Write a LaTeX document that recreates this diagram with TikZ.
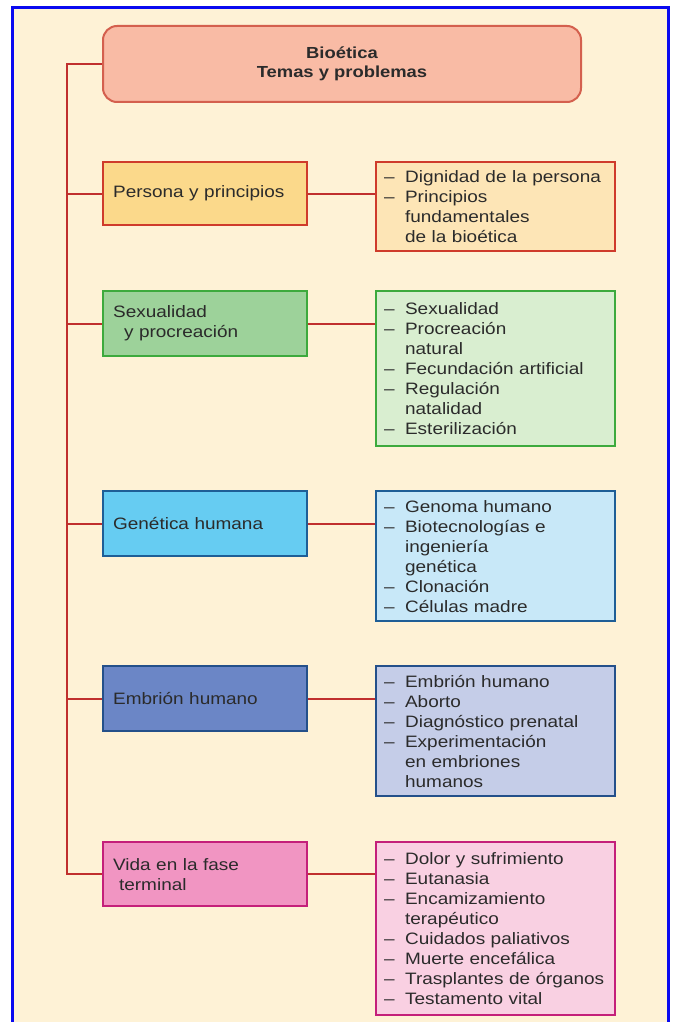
\documentclass[tikz,border=0pt]{standalone}
\usepackage{fontspec}
\setmainfont{Liberation Sans}[FakeStretch=1.15]
\definecolor{bg}{HTML}{FEF2D6}
\definecolor{frameblue}{HTML}{0A0AF0}
\definecolor{txt}{HTML}{2B2B2B}
\definecolor{conn}{HTML}{C0302E}
\definecolor{titleF}{HTML}{F9BBA5}
\definecolor{titleD}{HTML}{D4604E}
\definecolor{persF}{HTML}{FBD98B}
\definecolor{persL}{HTML}{FDE5B6}
\definecolor{persD}{HTML}{CF3B2B}
\definecolor{sexF}{HTML}{9DD29A}
\definecolor{sexL}{HTML}{D9EED0}
\definecolor{sexD}{HTML}{3DAA3D}
\definecolor{genF}{HTML}{66CCF2}
\definecolor{genL}{HTML}{C8E8F8}
\definecolor{genD}{HTML}{1E5E96}
\definecolor{embF}{HTML}{6B86C6}
\definecolor{embL}{HTML}{C5CDE8}
\definecolor{embD}{HTML}{24508A}
\definecolor{vidF}{HTML}{F195C2}
\definecolor{vidL}{HTML}{F9D0E2}
\definecolor{vidD}{HTML}{C4207A}
\newcommand\itm{\makebox[21pt][l]{–}}
\newcommand\cnt{\hspace*{21pt}}
\begin{document}
\begin{tikzpicture}[x=1pt,y=-1pt,
  font=\fontsize{16.5}{20}\selectfont, text=txt,
  titlebox/.style={draw=titleD, fill=titleF, line width=2pt, rounded corners=14pt,
    anchor=north west, minimum width=478pt, minimum height=76pt, align=center,
    font=\bfseries\fontsize{16}{18.5}\selectfont},
  lbox/.style={draw, line width=2.2pt, rectangle, anchor=north west,
    inner xsep=10pt, text width=184pt, align=left, inner ysep=0pt},
  rbox/.style={draw, line width=2.2pt, rectangle, anchor=north west,
    inner xsep=8pt, text width=223pt, align=left, inner ysep=0pt},
  link/.style={draw=conn, line width=2pt}]
\useasboundingbox (0,0) rectangle (675,1022);
\fill[white] (0,0) rectangle (675,1022);
\fill[bg] (12,8) rectangle (668,1022);
\draw[frameblue, line width=3pt] (12,1026) -- (12,8) -- (668,8) -- (668,1026);

\node[titlebox] (T) at (102,25) {Bioética\\Temas y problemas};

\node[lbox, draw=persD, fill=persF, minimum height=63pt] (L1) at (102,161) {Persona y principios};
\node[lbox, draw=sexD, fill=sexF, minimum height=65pt] (L2) at (102,290) {Sexualidad\\\hspace*{11pt}y procreación};
\node[lbox, draw=genD, fill=genF, minimum height=65pt] (L3) at (102,490) {Genética humana};
\node[lbox, draw=embD, fill=embF, minimum height=65pt] (L4) at (102,665) {Embrión humano};
\node[lbox, draw=vidD, fill=vidF, minimum height=64pt] (L5) at (102,841) {Vida en la fase\\\hspace*{6pt}terminal};

\node[rbox, draw=persD, fill=persL, minimum height=89pt] (R1) at (375,161)
  {\itm Dignidad de la persona\\\itm Principios\\\cnt fundamentales\\\cnt de la bioética};
\node[rbox, draw=sexD, fill=sexL, minimum height=155pt] (R2) at (375,290)
  {\itm Sexualidad\\\itm Procreación\\\cnt natural\\\itm Fecundación artificial\\\itm Regulación\\\cnt natalidad\\\itm Esterilización};
\node[rbox, draw=genD, fill=genL, minimum height=130pt] (R3) at (375,490)
  {\itm Genoma humano\\\itm Biotecnologías e\\\cnt ingeniería\\\cnt genética\\\itm Clonación\\\itm Células madre};
\node[rbox, draw=embD, fill=embL, minimum height=130pt] (R4) at (375,665)
  {\itm Embrión humano\\\itm Aborto\\\itm Diagnóstico prenatal\\\itm Experimentación\\\cnt en embriones\\\cnt humanos};
\node[rbox, draw=vidD, fill=vidL, minimum height=173pt] (R5) at (375,841)
  {\itm Dolor y sufrimiento\\\itm Eutanasia\\\itm Encamizamiento\\\cnt terapéutico\\\itm Cuidados paliativos\\\itm Muerte encefálica\\\itm Trasplantes de órganos\\\itm Testamento vital};

\draw[link] (T.west) -- ++(-35,0) coordinate (tt) -- (tt |- L5.west) -- (L5.west);
\foreach \i in {1,2,3,4} { \draw[link] (tt |- L\i.west) -- (L\i.west); }
\foreach \i in {1,2,3,4,5} { \draw[link] (L\i.east) -- (L\i.east -| R\i.west); }
\end{tikzpicture}
\end{document}
